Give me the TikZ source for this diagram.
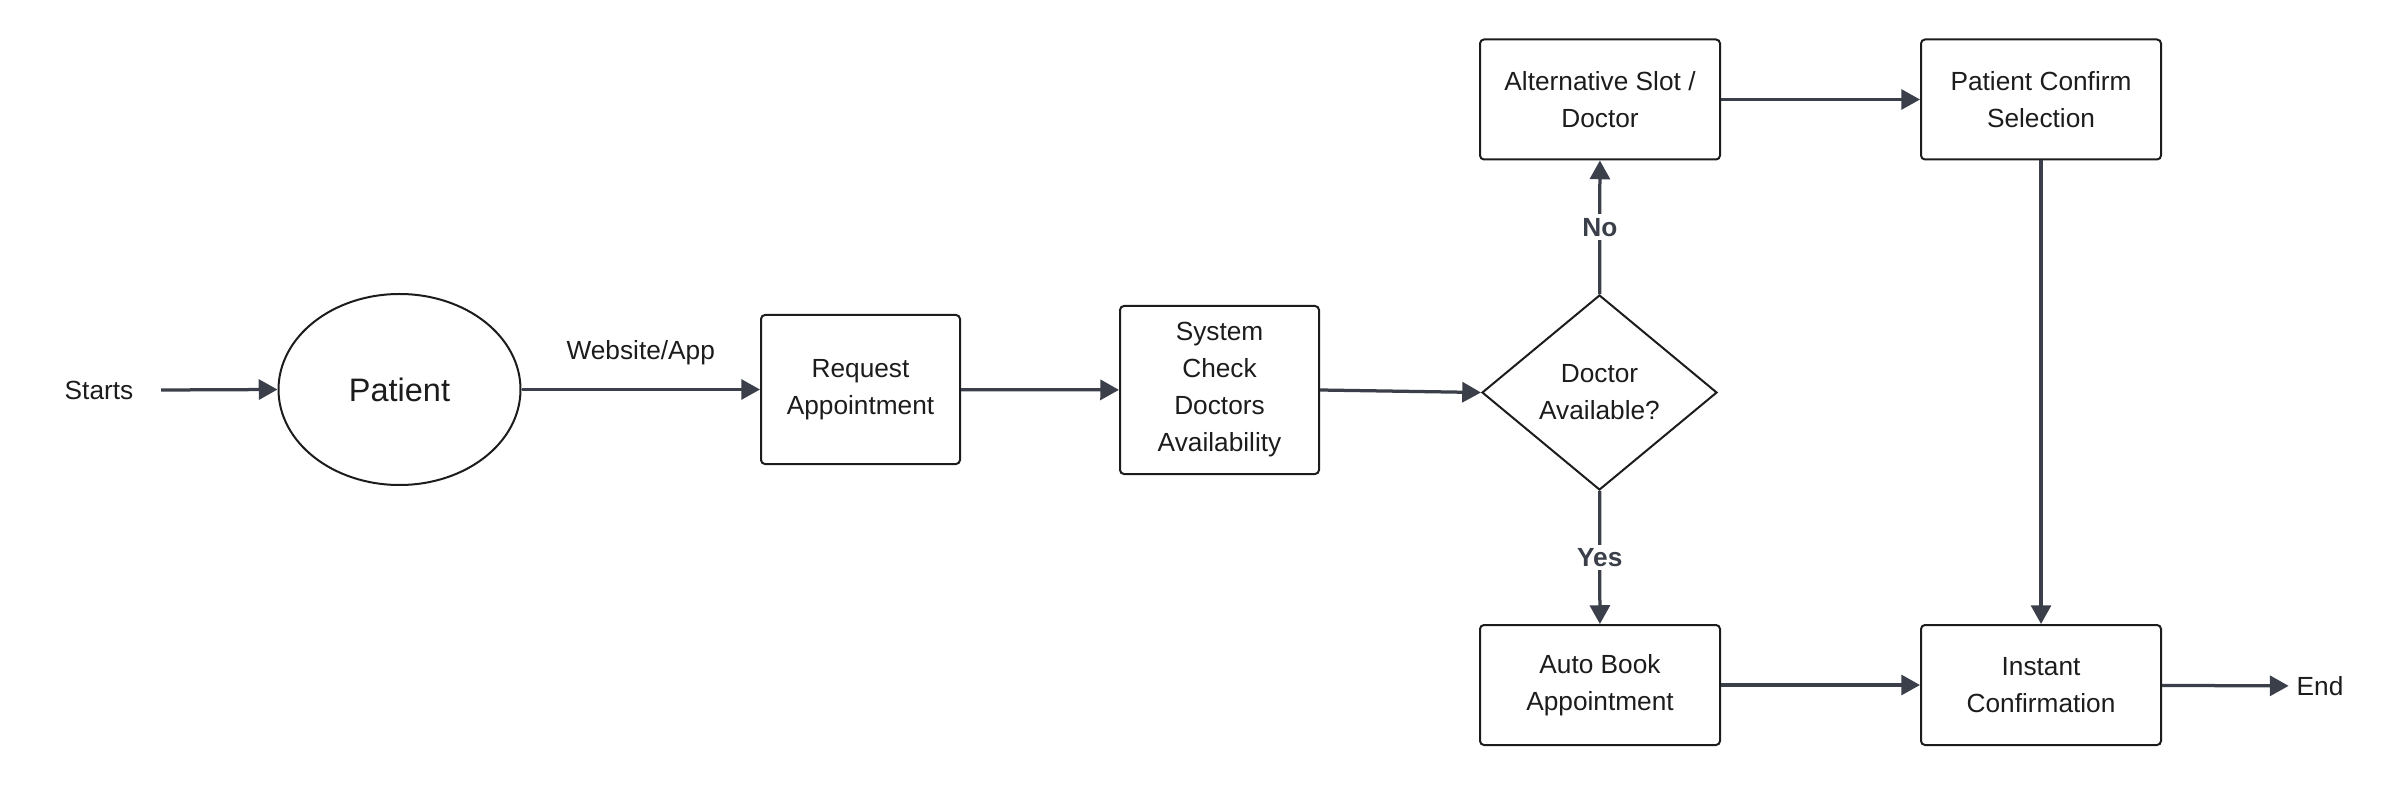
\documentclass[tikz,border=0pt]{standalone}
\usepackage{fontspec}
\setmainfont{Liberation Sans}
\usetikzlibrary{arrows.meta,positioning,shapes.geometric}
\definecolor{linegray}{HTML}{3B3F49}
\definecolor{inkblack}{HTML}{1C1C1C}

\begin{document}
\begin{tikzpicture}[x=0.4pt,y=-0.4pt,
  every node/.style={text=inkblack,font=\fontsize{10.5pt}{14.8pt}\selectfont},
  box/.style={draw=inkblack,line width=0.8pt,rounded corners=1.6pt,align=center,minimum width=96pt,minimum height=48pt},
  flow/.style={draw=linegray,line width=1.3pt,-{Triangle[length=7.5pt,width=8pt]}},
  answer/.style={fill=white,text=linegray,inner sep=1.5pt,font=\bfseries\fontsize{10.5pt}{12pt}\selectfont}]
\useasboundingbox (0,0) rectangle (2400,785);
% left part
\node (start) at (99,390) {Starts};
\node[ellipse,draw=inkblack,line width=0.8pt,minimum width=96.8pt,minimum height=76.4pt,font=\fontsize{13pt}{15pt}\selectfont] (patient) at (399.5,389.5) {Patient};
\node[box,minimum width=79.6pt,minimum height=59.6pt] (request) at (860.5,389.5) {Request\\Appointment};
\node[box,minimum width=79.6pt,minimum height=67.2pt] (syscheck) at (1219.5,390) {System\\Check\\Doctors\\Availability};
\node[diamond,draw=inkblack,line width=0.8pt,inner sep=0pt,align=center,minimum width=94pt,minimum height=78pt] (avail) at (1599.5,392.5) {Doctor\\Available?};
% right part
\node[box] (alt) at (1600,99.5) {Alternative Slot /\\Doctor};
\node[box,right=79.6pt of alt] (confirm) {Patient Confirm\\Selection};
\node[box] (auto) at (1600,685) {Auto Book\\Appointment};
\node[box,right=79.6pt of auto] (instant) {Instant\\Confirmation};
\node[inner sep=3pt] (end) at (2320,686) {End};
% connectors
\draw[flow] ([xshift=7.6pt]start.east) -- (patient.west);
\draw[flow] (patient.east) -- node[above=5.8pt] (web) {Website/App} (request.west);
\draw[flow] (request) -- (syscheck);
\draw[flow] (syscheck.east) -- (avail.west);
\draw[flow] (avail) -- node[answer] {No} (alt);
\draw[flow] (avail) -- node[answer] {Yes} (auto);
\draw[flow] (alt) -- (confirm);
\draw[flow] (confirm) -- (instant);
\draw[flow] (auto) -- (instant);
\draw[flow] (instant) -- (end);
\end{tikzpicture}
\end{document}
